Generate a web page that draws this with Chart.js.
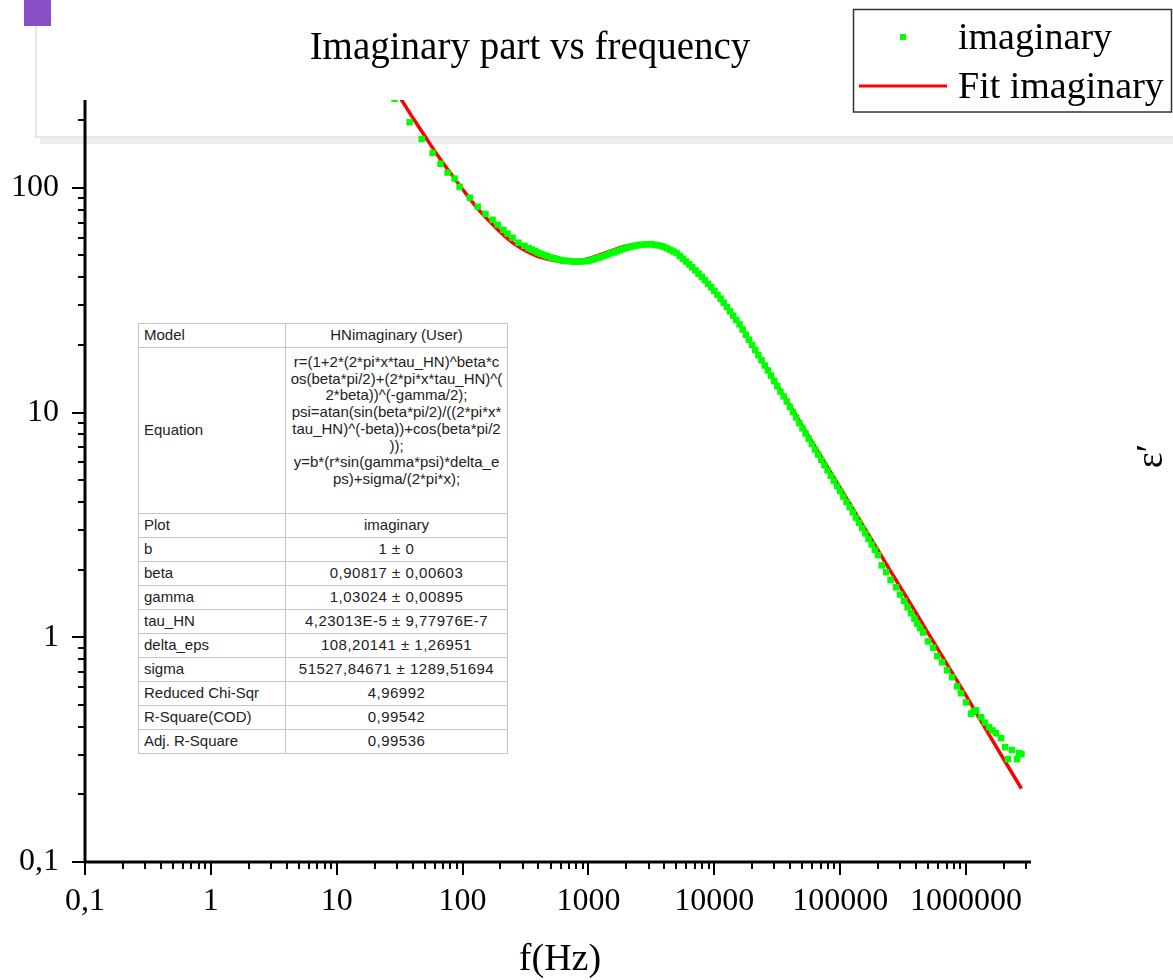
<!DOCTYPE html>
<html>
<head>
<meta charset="utf-8">
<script src="https://cdn.jsdelivr.net/npm/chart.js@4.4.0/dist/chart.umd.min.js"></script>
<style>
  body { margin: 0; background: #fff; }
  #wrap { position: relative; width: 1173px; height: 980px; overflow: hidden; }
  #chart { position: absolute; left: 0; top: 0; }
  #fitTable {
    position: absolute; left: 138px; top: 323px; width: 370px;
    border-collapse: collapse; background: #fff;
    font-family: "Liberation Sans", Arial, sans-serif; font-size: 15px; color: #222;
    border: 1.5px solid #333;
  }
  #fitTable td { border: 1px solid #c4c4c4; height: 23px; padding: 0 5px; line-height: 16.7px; white-space: nowrap; }
  #fitTable td:first-child { width: 136px; text-align: left; }
  #fitTable td:last-child { text-align: center; padding: 0 2px; }
  #fitTable tr.num td:last-child { letter-spacing: 0.5px; }
  #fitTable tr.eq td { height: 159px; }
  #fitTable tr.eq td:last-child { vertical-align: top; padding-top: 6px; }
</style>
</head>
<body>
<div id="wrap">
  <canvas id="chart" width="1173" height="980"></canvas>
  <table id="fitTable">
    <tr><td>Model</td><td>HNimaginary (User)</td></tr>
    <tr class="eq"><td>Equation</td><td>r=(1+2*(2*pi*x*tau_HN)^beta*c<br>os(beta*pi/2)+(2*pi*x*tau_HN)^(<br>2*beta))^(-gamma/2);<br>psi=atan(sin(beta*pi/2)/((2*pi*x*<br>tau_HN)^(-beta))+cos(beta*pi/2<br>));<br>y=b*(r*sin(gamma*psi)*delta_e<br>ps)+sigma/(2*pi*x);</td></tr>
    <tr><td>Plot</td><td>imaginary</td></tr>
    <tr class="num"><td>b</td><td>1 ± 0</td></tr>
    <tr class="num"><td>beta</td><td>0,90817 ± 0,00603</td></tr>
    <tr class="num"><td>gamma</td><td>1,03024 ± 0,00895</td></tr>
    <tr class="num"><td>tau_HN</td><td>4,23013E-5 ± 9,77976E-7</td></tr>
    <tr class="num"><td>delta_eps</td><td>108,20141 ± 1,26951</td></tr>
    <tr class="num"><td>sigma</td><td>51527,84671 ± 1289,51694</td></tr>
    <tr class="num"><td>Reduced Chi-Sqr</td><td>4,96992</td></tr>
    <tr class="num"><td>R-Square(COD)</td><td>0,99542</td></tr>
    <tr class="num"><td>Adj. R-Square</td><td>0,99536</td></tr>
  </table>
</div>
<script>
// measured points (Hz, imaginary part)
const dataFreq = [28.8, 37.9, 47.3, 57.8, 66.8, 76.0, 86.5, 94.6, 114, 132, 152, 173, 190, 211, 228, 249, 278, 310,
  335, 355, 376, 398, 422, 447, 473, 501, 531, 562, 596, 631, 668, 708, 750, 794, 841, 891, 944,
  1000, 1059, 1122, 1189, 1259, 1334, 1413, 1496, 1585, 1679, 1778, 1884, 1995, 2113, 2239, 2371, 2512, 2661, 2818, 2985,
  3162, 3350, 3548, 3758, 3981, 4217, 4467, 4732, 5012, 5309, 5623, 5957, 6310, 6683, 7079, 7499, 7943, 8414, 8913, 9441,
  10000, 10593, 11220, 11885, 12589, 13335, 14125, 14962, 15849, 16788, 17783, 18836, 19953, 21135, 22387, 23714, 25119, 26607, 28184, 29854,
  31623, 33497, 35481, 37584, 39811, 42170, 44668, 47315, 50119, 53088, 56234, 59566, 63096, 66834, 70795, 74989, 79433, 84140, 89125, 94406,
  100000, 105925, 112202, 118850, 125893, 133352, 141254, 149624, 158489, 167880, 177828, 188365, 199526,
  213796, 231739, 251189, 277971, 298538, 322107, 342768, 365595, 389045, 408319,
  431519, 456037, 498884, 547016, 588844, 645654, 706318, 774462, 849180, 912011,
  1000000, 1096478, 1148154, 1202264, 1315225, 1412538, 1524053, 1621810, 1729816, 1896730,
  2041738, 2152782, 2317395, 2540973, 2636331, 2754229];
const dataImag = [249, 196, 165, 143, 128, 117, 110, 101, 90.4, 82.4, 76.6, 72.1, 68.5, 65.0, 62.5, 60.0, 57.0, 55.2,
  53.9, 53.1, 52.3, 51.5, 50.9, 50.2, 49.6, 49.0, 48.6, 48.2, 47.8, 47.4, 47.3, 47.2, 47.0, 46.9, 47.0, 47.1, 47.2,
  47.3, 47.8, 48.3, 48.8, 49.2, 49.8, 50.4, 51.1, 51.6, 52.2, 52.8, 53.5, 54.1, 54.5, 54.9, 55.3, 55.7, 55.8, 56.0, 56.1,
  56.2, 55.8, 55.5, 55.1, 54.7, 53.8, 53.0, 52.1, 51.3, 49.8, 48.4, 47.0, 45.7, 44.3, 42.9, 41.5, 40.2, 38.8, 37.4, 36.1,
  34.8, 33.4, 32.1, 30.8, 29.5, 28.2, 27.0, 25.8, 24.7, 23.4, 22.2, 21.1, 20.0, 19.0, 18.0, 17.1, 16.2, 15.4, 14.6, 13.8,
  13.1, 12.4, 11.8, 11.2, 10.6, 10.05, 9.51, 8.99, 8.51, 8.07, 7.64, 7.24, 6.85, 6.50, 6.16, 5.83, 5.53, 5.24, 4.97, 4.71,
  4.47, 4.23, 4.01, 3.80, 3.60, 3.41, 3.23, 3.06, 2.90, 2.74, 2.59, 2.45, 2.32,
  2.09, 1.95, 1.80, 1.67, 1.55, 1.45, 1.36, 1.28, 1.21, 1.15,
  1.10, 1.05, 0.959, 0.899, 0.824, 0.774, 0.713, 0.664, 0.605, 0.564,
  0.513, 0.457, 0.468, 0.473, 0.441, 0.417, 0.398, 0.385, 0.374, 0.356,
  0.324, 0.287, 0.315, 0.287, 0.305, 0.302];

// fitted curve
const fitFreq = [27.5, 31.6, 39.8, 50.1, 63.1, 79.4, 100, 126, 158, 200, 251, 316, 398, 501, 631, 794, 1000, 1259, 1585, 1995,
  2512, 3162, 3981, 5012, 6310, 7943, 10000, 12589, 15849, 19953, 25119, 31623, 39811, 50119, 63096, 79433, 100000,
  158489, 251189, 398107, 630957, 1000000, 1584893, 2754229];
const fitImag = [282, 253.5, 207, 170, 140, 117, 98.6, 83.4, 72.4, 63.5, 56.9, 52.5, 49.5, 47.9, 47.0, 47.3, 48.4, 50.6, 53.0, 55.1,
  56.2, 56.4, 54.5, 51.1, 45.3, 39.8, 34.5, 29.4, 24.7, 20.0, 16.3, 13.2, 10.8, 8.71, 7.05, 5.71, 4.62,
  3.02, 1.97, 1.29, 0.841, 0.550, 0.355, 0.212];

const xTicks = [0.1, 1, 10, 100, 1000, 10000, 100000, 1000000];
const yTicks = [0.1, 1, 10, 100];

const SERIF = '"Liberation Serif", "Times New Roman", serif';
const fmt = v => (v < 1 ? String(v).replace('.', ',') : String(v));

// light frame + purple marker behind the plot
const framePlugin = {
  id: 'frame',
  beforeDraw(chart) {
    const c = chart.ctx;
    c.save();
    c.fillStyle = '#8b4fc5';
    c.fillRect(24, 0, 27, 26);
    c.fillStyle = '#e3e7eb';
    c.fillRect(35, 26, 2, 111);
    c.fillRect(35, 136, 1138, 2);
    c.fillStyle = '#eceef1';
    c.fillRect(40, 138, 1133, 6);
    c.restore();
  }
};

// axis lines, log ticks, titles and legend
const axesPlugin = {
  id: 'axes',
  afterDraw(chart) {
    const c = chart.ctx;
    const a = chart.chartArea;
    const xs = chart.scales.x, ys = chart.scales.y;
    c.save();
    c.strokeStyle = '#000';
    c.lineWidth = 3;
    c.beginPath();
    c.moveTo(a.left, a.bottom); c.lineTo(a.right, a.bottom);
    c.moveTo(a.left, a.top); c.lineTo(a.left, a.bottom);
    c.stroke();

    c.lineWidth = 2;
    c.beginPath();
    for (let d = -1; d <= 6; d++) {
      for (let m = 1; m <= 9; m++) {
        const v = m * Math.pow(10, d);
        if (v < xs.min * 0.999 || v > xs.max) continue;
        const px = Math.round(xs.getPixelForValue(v));
        c.moveTo(px, a.bottom); c.lineTo(px, a.bottom + (m === 1 ? 13 : 7));
      }
    }
    for (let d = -1; d <= 2; d++) {
      for (let m = 1; m <= 9; m++) {
        const v = m * Math.pow(10, d);
        if (v < ys.min * 0.999 || v > ys.max) continue;
        const py = Math.round(ys.getPixelForValue(v));
        c.moveTo(a.left, py); c.lineTo(a.left - (m === 1 ? 13 : 7), py);
      }
    }
    c.stroke();

    c.fillStyle = '#000';
    c.font = '39px ' + SERIF;
    c.textAlign = 'center';
    c.textBaseline = 'alphabetic';
    c.fillText('Imaginary part vs frequency', 530, 59);

    c.font = '38px ' + SERIF;
    c.fillText('f(Hz)', 560, 970);

    c.save();
    c.translate(1152, 456);
    c.rotate(-Math.PI / 2);
    c.textBaseline = 'middle';
    c.fillText('\u03B5\u2032', 0, 0);
    c.restore();

    // legend
    c.lineWidth = 1.5;
    c.strokeStyle = '#333';
    c.strokeRect(853.5, 9.5, 318, 102.5);
    c.fillStyle = '#00ff00';
    c.fillRect(900, 34, 6, 6);
    c.strokeStyle = '#ff0000';
    c.lineWidth = 3;
    c.beginPath(); c.moveTo(859, 86); c.lineTo(947, 86); c.stroke();
    c.fillStyle = '#000';
    c.textAlign = 'left';
    c.font = '38px ' + SERIF;
    c.fillText('imaginary', 958, 49);
    c.fillText('Fit imaginary', 958, 98);
    c.restore();
  }
};

new Chart(document.getElementById('chart'), {
  type: 'scatter',
  data: {
    datasets: [
      {
        label: 'imaginary',
        data: dataFreq.map((f, i) => ({ x: f, y: dataImag[i] })),
        pointStyle: 'rect',
        pointRadius: 4.6,
        backgroundColor: '#00ff00',
        borderColor: '#00ff00',
        borderWidth: 0,
        order: 0
      },
      {
        label: 'Fit imaginary',
        data: fitFreq.map((f, i) => ({ x: f, y: fitImag[i] })),
        showLine: true,
        borderColor: '#ff0000',
        borderWidth: 3.5,
        pointRadius: 0,
        tension: 0.3,
        order: 1
      }
    ]
  },
  options: {
    responsive: false,
    animation: false,
    events: [],
    layout: { padding: { left: 0, top: 100, right: 142, bottom: 0 } },
    plugins: { legend: { display: false }, title: { display: false }, tooltip: { enabled: false } },
    scales: {
      x: {
        type: 'logarithmic',
        min: 0.1,
        max: 3.28e6,
        grid: { display: false, drawTicks: false },
        border: { display: false },
        afterBuildTicks: s => { s.ticks = xTicks.map(v => ({ value: v })); },
        afterFit: s => { s.height = 118; },
        ticks: {
          autoSkip: false, maxRotation: 0, minRotation: 0, padding: 20,
          color: '#000', font: { family: SERIF, size: 32 },
          callback: v => fmt(v)
        }
      },
      y: {
        type: 'logarithmic',
        min: 0.1,
        max: 246,
        grid: { display: false, drawTicks: false },
        border: { display: false },
        afterBuildTicks: s => { s.ticks = yTicks.map(v => ({ value: v })); },
        afterFit: s => { s.width = 85; },
        ticks: {
          autoSkip: false, padding: 26,
          color: '#000', font: { family: SERIF, size: 32 },
          callback: v => fmt(v)
        }
      }
    }
  },
  plugins: [framePlugin, axesPlugin]
});
</script>
</body>
</html>
